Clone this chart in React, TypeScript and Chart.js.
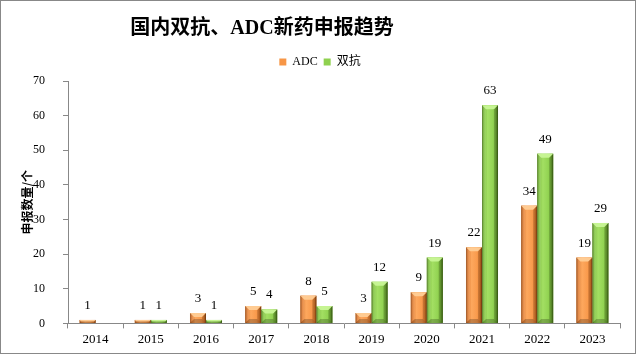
import React, { useEffect, useRef } from "react";
import { Chart, registerables } from "chart.js";

Chart.register(...registerables);

const chartTitle = "国内双抗、ADC新药申报趋势";
const yAxisTitle = "申报数量/个";
const years = ["2014", "2015", "2016", "2017", "2018", "2019", "2020", "2021", "2022", "2023"];
const seriesNames = ["ADC", "双抗"];
const adcValues = [1, 1, 3, 5, 8, 3, 9, 22, 34, 19];
const bispecificValues = [0, 1, 1, 4, 5, 12, 19, 63, 49, 29];
const yMin = 0;
const yMax = 70;
const yStep = 10;

const SERIF = "'Liberation Serif', 'Times New Roman', 'Noto Sans CJK SC', serif";
const CJK = "'Noto Sans CJK SC', sans-serif";

const palettes = [
  {
    base: "#f79646",
    stops: ["#8e4412", "#e07d33", "#fda85e", "#f99a4c", "#d9772c", "#7a3a0e"],
    top: "rgba(255, 205, 150, 0.95)",
  },
  {
    base: "#8fd14f",
    stops: ["#456d18", "#80c240", "#a3df63", "#92d352", "#6ca632", "#3a5d12"],
    top: "rgba(200, 245, 150, 0.95)",
  },
];

const layoutTweaks = {
  id: "layoutTweaks",
  afterInit(chart: any) {
    const lg = chart.legend;
    if (lg && !lg.__patched) {
      const orig = lg.fit;
      lg.fit = function () {
        orig.call(this);
        this.height += 3;
      };
      lg.__patched = true;
    }
  },
  afterLayout(chart: any) {
    const tb = chart.titleBlock;
    if (tb) {
      tb.right = tb.left + 524;
    }
    const lg = chart.legend;
    if (lg) {
      lg.left += 10;
      lg.right += 10;
    }
  },
};

const barStyleAndLabels = {
  id: "barStyleAndLabels",
  afterDatasetsDraw(chart: any) {
    const ctx = chart.ctx as CanvasRenderingContext2D;
    ctx.save();
    chart.data.datasets.forEach((ds: any, di: number) => {
      const meta = chart.getDatasetMeta(di);
      const pal = palettes[di];
      meta.data.forEach((el: any, i: number) => {
        const v = ds.data[i];
        if (!v) return;
        const x0 = el.x - el.width / 2;
        const x1 = el.x + el.width / 2;
        const top = Math.min(el.y, el.base);
        const bottom = Math.max(el.y, el.base);
        const h = bottom - top;
        const w = x1 - x0;
        const g = ctx.createLinearGradient(x0, 0, x1, 0);
        const pos = [0, 0.12, 0.35, 0.7, 0.88, 1];
        pos.forEach((p, k) => g.addColorStop(p, pal.stops[k]));
        ctx.fillStyle = g;
        ctx.fillRect(x0, top, w, h);
        const b = Math.min(4, h / 2, w / 3);
        ctx.fillStyle = pal.top;
        ctx.beginPath();
        ctx.moveTo(x0, top);
        ctx.lineTo(x1, top);
        ctx.lineTo(x1 - b, top + b);
        ctx.lineTo(x0 + b, top + b);
        ctx.closePath();
        ctx.fill();
        ctx.fillStyle = "rgba(0,0,0,0.22)";
        ctx.beginPath();
        ctx.moveTo(x0, bottom);
        ctx.lineTo(x1, bottom);
        ctx.lineTo(x1 - b, bottom - b);
        ctx.lineTo(x0 + b, bottom - b);
        ctx.closePath();
        ctx.fill();
        ctx.fillStyle = "rgba(255,255,255,0.10)";
        ctx.beginPath();
        ctx.moveTo(x0, top);
        ctx.lineTo(x0 + b, top + b);
        ctx.lineTo(x0 + b, bottom - b);
        ctx.lineTo(x0, bottom);
        ctx.closePath();
        ctx.fill();
        ctx.fillStyle = "rgba(0,0,0,0.15)";
        ctx.beginPath();
        ctx.moveTo(x1, top);
        ctx.lineTo(x1 - b, top + b);
        ctx.lineTo(x1 - b, bottom - b);
        ctx.lineTo(x1, bottom);
        ctx.closePath();
        ctx.fill();
      });
    });
    ctx.fillStyle = "#000";
    ctx.font = `13px ${SERIF}`;
    ctx.textAlign = "center";
    ctx.textBaseline = "middle";
    chart.data.datasets.forEach((ds: any, di: number) => {
      const meta = chart.getDatasetMeta(di);
      meta.data.forEach((el: any, i: number) => {
        const v = ds.data[i];
        if (!v) return;
        ctx.fillText(String(v), el.x, el.y - 14.5);
      });
    });
    ctx.restore();
  },
  afterDraw(chart: any) {
    const ctx = chart.ctx as CanvasRenderingContext2D;
    ctx.save();
    ctx.strokeStyle = "#888888";
    ctx.lineWidth = 1;
    ctx.strokeRect(0.5, 0.5, chart.width - 1, chart.height - 1);
    ctx.restore();
  },
};

export default function App() {
  const ref = useRef<HTMLCanvasElement | null>(null);

  useEffect(() => {
    if (!ref.current) return;
    const chart = new Chart(ref.current, {
      type: "bar",
      data: {
        labels: years,
        datasets: [
          {
            label: seriesNames[0],
            data: adcValues,
            backgroundColor: palettes[0].base,
            borderWidth: 0,
            barPercentage: 1,
            categoryPercentage: 0.58,
          },
          {
            label: seriesNames[1],
            data: bispecificValues,
            backgroundColor: palettes[1].base,
            borderWidth: 0,
            barPercentage: 1,
            categoryPercentage: 0.58,
          },
        ],
      },
      options: {
        responsive: false,
        animation: false,
        devicePixelRatio: 1,
        layout: { padding: { top: 0, right: 16, bottom: 4, left: 0 } },
        plugins: {
          title: {
            display: true,
            text: chartTitle,
            color: "#000",
            font: { family: SERIF, size: 20, weight: "bold", lineHeight: 1.2 },
            padding: { top: 17, bottom: 9 },
          },
          legend: {
            display: true,
            position: "top",
            labels: {
              boxWidth: 7,
              boxHeight: 7,
              padding: 6,
              color: "#000",
              font: { family: SERIF, size: 12 },
            },
          },
          tooltip: { enabled: false },
        },
        scales: {
          x: {
            grid: {
              display: true,
              drawOnChartArea: false,
              drawTicks: true,
              tickLength: 5,
              color: "#888888",
              offset: true,
            },
            border: { display: true, color: "#888888" },
            ticks: {
              color: "#000",
              font: { family: SERIF, size: 13 },
              padding: 3,
              autoSkip: false,
              maxRotation: 0,
            },
          },
          y: {
            min: yMin,
            max: yMax,
            grid: {
              display: true,
              drawOnChartArea: false,
              drawTicks: true,
              tickLength: 5,
              color: "#888888",
            },
            border: { display: true, color: "#888888" },
            ticks: {
              stepSize: yStep,
              color: "#000",
              font: { family: SERIF, size: 12 },
              padding: 18,
            },
            title: {
              display: true,
              text: yAxisTitle,
              color: "#000",
              font: { family: CJK, size: 12, weight: "bold" },
              padding: { top: 20, bottom: 0 },
            },
            afterFit(scale: any) {
              scale.width = 68;
            },
          },
        },
      },
      plugins: [layoutTweaks, barStyleAndLabels],
    } as any);
    return () => chart.destroy();
  }, []);

  return (
    <div style={{ position: "absolute", left: 0, top: 0, width: 636, height: 354, background: "#fff" }}>
      <canvas ref={ref} width={636} height={354} style={{ display: "block", width: 636, height: 354 }} />
    </div>
  );
}
